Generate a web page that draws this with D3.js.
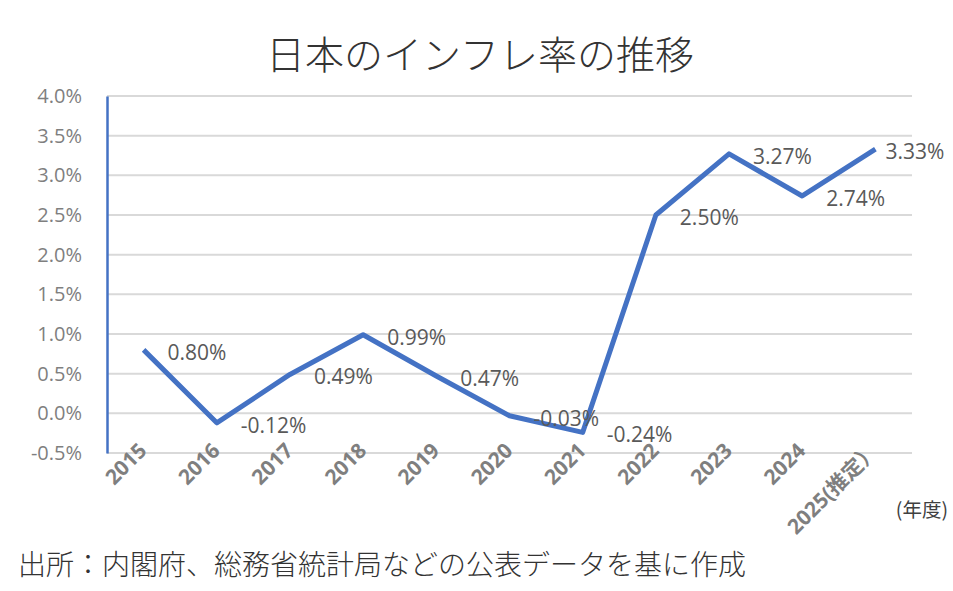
<!DOCTYPE html>
<html>
<head>
<meta charset="utf-8">
<script src="https://cdn.jsdelivr.net/npm/d3@7"></script>
<style>
  body { margin: 0; background: #fff; }
  svg { display: block; }
</style>
</head>
<body>
<div id="chart"></div>
<script>
// data
var years = ["2015", "2016", "2017", "2018", "2019", "2020", "2021", "2022", "2023", "2024", "2025(推定）"]
var inflation = [0.80, -0.12, 0.49, 0.99, 0.47, -0.03, -0.24, 2.50, 3.27, 2.74, 3.33]
var yTicks = [-0.5, 0, 0.5, 1.0, 1.5, 2.0, 2.5, 3.0, 3.5, 4.0]

var W = 953, H = 591
var margin = {top: 96, right: 41, bottom: 138, left: 107}
var numFont = "'Open Sans', 'Noto Sans CJK JP', sans-serif"
var jpFont = "'Noto Sans CJK JP', sans-serif"

var svg = d3.select("#chart").append("svg")
  .attr("width", W)
  .attr("height", H)

var x = d3.scalePoint()
  .domain(years)
  .range([margin.left, W - margin.right])
  .padding(0.5)

var y = d3.scaleLinear()
  .domain([-0.5, 4.0])
  .range([H - margin.bottom, margin.top])

// title
svg.append("text")
  .attr("x", 480)
  .attr("y", 52)
  .attr("text-anchor", "middle")
  .attr("dominant-baseline", "central")
  .style("font-family", jpFont)
  .style("font-size", "39px")
  .style("font-weight", 300)
  .style("fill", "#333")
  .text("日本のインフレ率の推移")

// gridlines
svg.append("g")
  .selectAll("line")
  .data(yTicks)
  .enter().append("line")
    .attr("x1", margin.left)
    .attr("x2", W - margin.right)
    .attr("y1", d => y(d))
    .attr("y2", d => y(d))
    .style("stroke", "#d9d9d9")
    .style("stroke-width", 2)

// y axis
var yAxis = d3.axisLeft(y)
  .tickValues(yTicks)
  .tickSize(0)
  .tickPadding(25)
  .tickFormat(d => d.toFixed(1) + "%")

var gy = svg.append("g")
  .attr("transform", "translate(" + margin.left + ",0)")
  .call(yAxis)
gy.select(".domain")
  .style("stroke", "#4472c4")
  .style("stroke-width", 2.5)
gy.selectAll("text")
  .style("font-family", numFont)
  .style("font-size", "20px")
  .style("fill", "#7f7f7f")

// x axis labels
var xAxis = d3.axisBottom(x).tickSize(0).tickPadding(0)
var gx = svg.append("g")
  .attr("transform", "translate(0," + (H - margin.bottom) + ")")
  .call(xAxis)
gx.select(".domain").remove()
gx.selectAll("text")
  .attr("text-anchor", "end")
  .attr("dy", null)
  .attr("y", 0)
  .attr("transform", "translate(4,-1) rotate(-45)")
  .style("font-family", numFont)
  .style("font-size", "21px")
  .style("font-weight", "bold")
  .style("fill", "#7f7f7f")

// line
var line = d3.line()
  .x((d, i) => x(years[i]))
  .y(d => y(d))

svg.append("path")
  .datum(inflation)
  .attr("d", line)
  .style("fill", "none")
  .style("stroke", "#4472c4")
  .style("stroke-width", 5)
  .style("stroke-linejoin", "round")

// data labels
svg.append("g")
  .selectAll("text")
  .data(inflation)
  .enter().append("text")
    .attr("x", (d, i) => x(years[i]) + (i === inflation.length - 1 ? 10 : 24))
    .attr("y", d => y(d) + 2)
    .attr("dominant-baseline", "central")
    .style("font-family", numFont)
    .style("font-size", "21px")
    .style("fill", "#595959")
    .text(d => d.toFixed(2) + "%")

// unit
svg.append("text")
  .attr("x", 948)
  .attr("y", 508)
  .attr("text-anchor", "end")
  .attr("dominant-baseline", "central")
  .style("font-family", jpFont)
  .style("font-size", "19.5px")
  .style("fill", "#404040")
  .text("(年度)")

// source
svg.append("text")
  .attr("x", 18)
  .attr("y", 563)
  .attr("dominant-baseline", "central")
  .style("font-family", jpFont)
  .style("font-size", "28px")
  .style("font-weight", 300)
  .style("fill", "#333")
  .text("出所：内閣府、総務省統計局などの公表データを基に作成")
</script>
</body>
</html>
